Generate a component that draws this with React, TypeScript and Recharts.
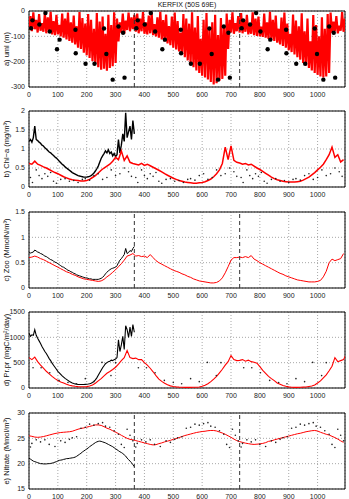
import React from 'react';
import {
  ComposedChart,
  Line,
  Scatter,
  XAxis,
  YAxis,
  CartesianGrid,
  ReferenceLine,
  ReferenceArea,
} from 'recharts';

// 3 model years, daily axis
const X_MAX = 1095;
const X_TICKS = [0, 100, 200, 300, 400, 500, 600, 700, 800, 900, 1000];
const YEAR_STARTS = [0, 365, 730];

// a) mixed layer depth (m): deepest / shallowest excursion every 10 days
const umlDeep = [
  -75, -80, -72, -85, -78, -82, -88, -84, -92, -95, -92, -100, -105, -112, -118, -125, -132, -145, -150, -165,
  -175, -185, -198, -210, -222, -232, -228, -236, -225, -218, -205, -120, -85, -90, -75, -80, -72,
  -82, -88, -80, -90, -92, -88, -95, -100, -105, -112, -120, -128, -135, -145, -152, -160, -172, -182, -195, -210,
  -222, -235, -245, -255, -262, -270, -280, -290, -285, -275, -268, -255, -150, -85, -90, -80,
  -85, -88, -82, -92, -90, -95, -98, -100, -102, -105, -110, -115, -118, -125, -132, -138, -145, -155, -162, -172,
  -182, -192, -205, -215, -225, -235, -245, -252, -258, -262, -258, -245, -85, -80, -88, -78, -82,
];
const umlShallow = [
  -20, -5, -35, -12, -48, -8, -25, -3, -40, -15, -55, -10, -30, -6, -45, -18, -60, -4, -28, -50,
  -12, -35, -70, -8, -42, -22, -90, -15, -55, -5, -30, -45, -10, -38, -6, -25, -15,
  -10, -30, -4, -45, -18, -8, -52, -25, -3, -36, -14, -60, -22, -6, -40, -85, -12, -30, -50, -5,
  -65, -20, -110, -35, -8, -75, -45, -15, -95, -28, -60, -10, -35, -5, -48, -20,
  -8, -40, -15, -55, -5, -30, -22, -62, -10, -45, -3, -35, -18, -70, -26, -6, -50, -90, -14, -38,
  -60, -9, -80, -30, -120, -16, -55, -100, -25, -70, -12, -6, -42, -20, -58, -4, -30,
];
// observed climatology (day of year, depth)
const umlObsDoy = [7, 12, 36, 57, 72, 97, 106, 161, 162, 196, 227, 260, 268, 290, 310, 326, 331];
const umlObs = [-68, -37, -53, -8, -81, -151, -113, -74, -167, -208, -208, -69, -170, -271, -61, -86, -263];

// b) chlorophyll (mg/m3)
const chlModel = [
  0.62, 0.6, 0.68, 0.6, 0.57, 0.53, 0.5, 0.46, 0.42, 0.38, 0.35, 0.31, 0.27, 0.24, 0.21, 0.19, 0.18, 0.17, 0.16, 0.16,
  0.17, 0.2, 0.25, 0.3, 0.37, 0.44, 0.5, 0.55, 0.6, 0.68, 0.78, 0.72, 0.95, 0.7, 0.82, 0.65, 0.62,
  0.6, 0.58, 0.62, 0.57, 0.6, 0.56, 0.52, 0.48, 0.44, 0.4, 0.35, 0.31, 0.27, 0.23, 0.2, 0.17, 0.15, 0.13, 0.12, 0.11,
  0.1, 0.1, 0.11, 0.12, 0.14, 0.17, 0.21, 0.27, 0.35, 0.45, 0.62, 1.05, 0.72, 1.08, 0.7, 0.65,
  0.63, 0.6, 0.62, 0.58, 0.6, 0.55, 0.5, 0.46, 0.41, 0.36, 0.31, 0.26, 0.22, 0.19, 0.17, 0.15, 0.14, 0.13, 0.13, 0.13,
  0.14, 0.15, 0.18, 0.22, 0.26, 0.32, 0.38, 0.45, 0.52, 0.6, 0.72, 0.85, 1.05, 0.78, 0.85, 0.66, 0.72,
];
const chlRun1 = [
  1.2, 1.25, 1.18, 1.3, 1.6, 1.25, 1.22, 1.18, 1.15, 1.1, 1.08, 1.03, 1.0, 0.96, 0.92, 0.9, 0.86, 0.83, 0.79, 0.76,
  0.72, 0.68, 0.64, 0.6, 0.57, 0.53, 0.5, 0.47, 0.44, 0.41, 0.38, 0.36, 0.34, 0.32, 0.3, 0.29, 0.28, 0.27, 0.26, 0.26,
  0.26, 0.27, 0.28, 0.3, 0.33, 0.37, 0.42, 0.48, 0.55, 0.65, 0.75, 0.82, 0.88, 0.95, 0.9, 0.98, 0.88, 0.92, 0.82, 0.88,
  0.8, 0.85, 1.25, 0.9, 1.1, 1.4, 1.2, 1.95, 1.3, 1.45, 1.6, 1.25, 1.75, 1.4,
];
const chlObsDoy = [5, 12, 25, 35, 45, 55, 65, 75, 85, 95, 110, 125, 140, 155, 170, 185, 195, 210, 225, 240, 255, 270, 285, 300, 315, 330, 345, 355];
const chlObs = [0.25, 0.12, 0.45, 0.3, 0.22, 0.35, 0.28, 0.38, 0.15, 0.1, 0.2, 0.22, 0.15, 0.17, 0.12, 0.2, 0.22, 0.18, 0.3, 0.35, 0.2, 0.25, 0.45, 0.3, 0.35, 0.5, 0.4, 0.28];

// c) zooplankton (mmolN/m3)
const zooModel = [
  0.6, 0.61, 0.63, 0.61, 0.58, 0.56, 0.53, 0.5, 0.47, 0.44, 0.41, 0.38, 0.35, 0.32, 0.3, 0.27, 0.25, 0.22, 0.2, 0.18,
  0.17, 0.16, 0.15, 0.14, 0.13, 0.14, 0.17, 0.22, 0.26, 0.31, 0.36, 0.42, 0.48, 0.55, 0.63, 0.65, 0.68,
  0.63, 0.64, 0.62, 0.63, 0.6, 0.66, 0.6, 0.54, 0.5, 0.47, 0.44, 0.41, 0.38, 0.35, 0.33, 0.31, 0.28, 0.26, 0.23, 0.21,
  0.18, 0.16, 0.14, 0.13, 0.12, 0.11, 0.1, 0.1, 0.11, 0.14, 0.2, 0.3, 0.42, 0.55, 0.6, 0.6,
  0.61, 0.6, 0.62, 0.6, 0.64, 0.57, 0.54, 0.5, 0.47, 0.44, 0.41, 0.38, 0.35, 0.32, 0.29, 0.27, 0.24, 0.22, 0.2, 0.18,
  0.16, 0.15, 0.14, 0.13, 0.12, 0.12, 0.12, 0.13, 0.15, 0.22, 0.33, 0.5, 0.57, 0.54, 0.56, 0.58, 0.68,
];
const zooRun1 = [
  0.7, 0.69, 0.7, 0.71, 0.75, 0.73, 0.71, 0.7, 0.68, 0.67, 0.65, 0.63, 0.62, 0.6, 0.58, 0.56, 0.55, 0.53, 0.51, 0.5,
  0.48, 0.46, 0.44, 0.42, 0.41, 0.39, 0.37, 0.35, 0.34, 0.32, 0.31, 0.29, 0.28, 0.26, 0.25, 0.24, 0.23, 0.22, 0.21, 0.2,
  0.2, 0.19, 0.18, 0.18, 0.17, 0.17, 0.17, 0.17, 0.17, 0.18, 0.19, 0.21, 0.24, 0.28, 0.31, 0.34, 0.36, 0.38, 0.39, 0.4,
  0.41, 0.44, 0.5, 0.55, 0.58, 0.62, 0.66, 0.78, 0.68, 0.7, 0.74, 0.72, 0.78, 0.82,
];

// d) primary production (mgC/m2/day)
const ppModel = [
  600, 560, 610, 520, 450, 390, 330, 280, 230, 185, 150, 120, 100, 75, 55, 42, 33, 28, 26, 25,
  27, 38, 60, 95, 140, 185, 240, 290, 325, 365, 410, 470, 540, 600, 740, 600, 580,
  590, 560, 560, 500, 450, 390, 320, 245, 175, 130, 95, 65, 42, 30, 22, 17, 14, 13, 13, 13,
  14, 16, 20, 35, 55, 85, 125, 175, 230, 300, 370, 450, 520, 640, 560, 540,
  545, 560, 530, 550, 520, 510, 490, 420, 350, 290, 230, 185, 145, 100, 75, 50, 35, 22, 15, 13,
  13, 14, 17, 20, 30, 40, 60, 100, 140, 200, 260, 340, 430, 600, 520, 540, 560, 680,
];
const ppRun1 = [
  1080, 1020, 1050, 1040, 1150, 1040, 980, 930, 880, 820, 770, 720, 680, 630, 580, 540, 490, 450, 410, 370,
  330, 300, 270, 240, 215, 190, 170, 150, 130, 115, 100, 90, 82, 76, 72, 70, 70, 70, 70, 72,
  74, 78, 85, 95, 110, 130, 160, 200, 250, 300, 350, 400, 440, 480, 500, 520, 530, 550, 540, 560,
  570, 600, 950, 720, 850, 1020, 760, 1230, 1150, 1000, 1200, 1020, 1250, 1100,
];
const ppObsDoy = [14, 42, 72, 104, 135, 164, 195, 225, 253, 284, 300];
const ppObs = [400, 400, 300, 150, 110, 85, 185, 125, 505, 245, 500];

// e) nitrate (mmol/m3)
const no3Model = [
  25.5, 25.4, 25.25, 25.2, 25.25, 25.35, 25.5, 25.65, 25.8, 25.95, 26.05, 26.15, 26.2, 26.25, 26.3, 26.4, 26.6, 26.8, 26.95, 27.05,
  27.2, 27.35, 27.5, 27.65, 27.65, 27.55, 27.3, 27.0, 26.8, 26.5, 26.2, 25.95, 25.6, 25.3, 25.0, 24.8, 24.7,
  24.55, 24.4, 24.25, 24.1, 23.95, 23.8, 23.7, 23.75, 23.95, 24.1, 24.3, 24.45, 24.6, 24.8, 24.95, 25.15, 25.35, 25.55, 25.7, 25.85,
  26.0, 26.15, 26.25, 26.35, 26.4, 26.5, 26.55, 26.55, 26.45, 26.25, 26.05, 25.8, 25.5, 25.2, 24.85, 24.55,
  24.35, 24.2, 24.05, 23.95, 23.85, 23.8, 23.85, 23.9, 24.0, 24.15, 24.4, 24.5, 24.7, 24.85, 25.0, 25.15, 25.3, 25.45, 25.6, 25.75,
  25.9, 26.0, 26.15, 26.3, 26.4, 26.5, 26.55, 26.45, 26.2, 26.0, 25.8, 25.65, 25.4, 25.15, 24.85, 24.5, 24.2,
];
const no3Run1 = [
  21.1, 20.9, 20.7, 20.5, 20.4, 20.3, 20.2, 20.1, 20.0, 20.0, 19.95, 19.95, 19.95, 20.0, 20.0, 20.05, 20.1, 20.2, 20.3, 20.4,
  20.55, 20.65, 20.7, 20.75, 20.85, 20.9, 21.0, 21.0, 21.05, 21.1, 21.15, 21.2, 21.3, 21.45, 21.65, 21.85, 22.05, 22.3, 22.5, 22.7,
  22.9, 23.1, 23.35, 23.55, 23.75, 23.95, 24.15, 24.3, 24.4, 24.45, 24.4, 24.3, 24.2, 24.1, 23.95, 23.8, 23.65, 23.5, 23.35, 23.15,
  22.95, 22.75, 22.55, 22.35, 22.2, 22.0, 21.75, 21.5, 21.1, 20.8, 20.5, 20.2, 19.8, 19.4,
];
const no3ObsDoy = [5, 10, 25, 40, 55, 70, 90, 110, 125, 140, 150, 165, 180, 195, 210, 225, 240, 255, 265, 280, 295, 310, 320, 330, 340, 350, 360];
const no3Obs = [23.3, 24.0, 24.7, 24.3, 24.7, 23.8, 23.4, 24.5, 24.2, 24.8, 25.1, 25.3, 27.0, 27.2, 27.8, 27.6, 27.9, 28.1, 27.4, 27.2, 26.5, 25.8, 23.8, 23.2, 26.8, 25.6, 24.5];

type Pt = { day: number; v: number };

const every = (step: number, vals: number[]): Pt[] => vals.map((v, i) => ({ day: i * step, v }));
const climatology = (doy: number[], vals: number[]): Pt[] =>
  YEAR_STARTS.flatMap((y0) => doy.map((d, i) => ({ day: y0 + d, v: vals[i] })));

// deep and shallow excursions alternate every 5 days
const umlModel: Pt[] = umlDeep.flatMap((d, i) => [
  { day: i * 10, v: d },
  { day: i * 10 + 5, v: umlShallow[i] },
]);

const FONT = '"Liberation Sans", Arial, sans-serif';
const RED = '#ff0000';
const PLOT_H = 76;
const M_TOP = 4;

const bigDot = (p: any) => <circle cx={p.cx} cy={p.cy} r={2.2} fill="#000" />;
const smallDot = (p: any) => <circle cx={p.cx} cy={p.cy} r={0.8} fill="#222" />;

interface PanelProps {
  top: number;
  domain: [number, number];
  ticks: number[];
  label: React.ReactNode;
  dashed?: boolean;
  children: React.ReactNode;
}

function Panel({ top, domain, ticks, label, dashed, children }: PanelProps) {
  return (
    <>
      <div
        style={{
          position: 'absolute',
          left: 6,
          top: top + PLOT_H / 2,
          transform: 'translate(-50%, -50%) rotate(-90deg)',
          whiteSpace: 'nowrap',
          fontSize: 7.5,
          color: '#111',
        }}
      >
        {label}
      </div>
      <div style={{ position: 'absolute', left: 0, top: top - M_TOP }}>
        <ComposedChart width={349} height={M_TOP + PLOT_H + 14} margin={{ top: M_TOP, right: 4, bottom: 0, left: 0 }}>
          <CartesianGrid stroke="#a8a8a8" strokeDasharray="1 2" />
          <XAxis
            type="number"
            dataKey="day"
            domain={[0, X_MAX]}
            ticks={X_TICKS}
            interval={0}
            allowDataOverflow
            axisLine={false}
            tickLine={false}
            tickSize={3}
            height={14}
            tick={{ fontSize: 7, fill: '#222' }}
          />
          <YAxis
            type="number"
            domain={domain}
            ticks={ticks}
            interval={0}
            allowDataOverflow
            width={29}
            axisLine={false}
            tickLine={false}
            tickSize={2}
            tick={{ fontSize: 7, fill: '#222' }}
          />
          {children}
          {dashed && <ReferenceLine x={365} stroke="#333" strokeDasharray="4 3" />}
          {dashed && <ReferenceLine x={730} stroke="#333" strokeDasharray="4 3" />}
          <ReferenceArea x1={0} x2={X_MAX} y1={domain[0]} y2={domain[1]} fill="none" stroke="#000" strokeWidth={1} />
        </ComposedChart>
      </div>
    </>
  );
}

export default function App() {
  return (
    <div style={{ position: 'absolute', left: 0, top: 0, width: 349, height: 499, background: '#fff', fontFamily: FONT }}>
      <div style={{ position: 'absolute', left: 187, top: 1, transform: 'translateX(-50%)', fontSize: 7, lineHeight: '7px', whiteSpace: 'nowrap', color: '#111' }}>
        KERFIX (50S 69E)
      </div>

      <Panel top={11} domain={[-300, 0]} ticks={[-300, -200, -100, 0]} label="a) uml (m)" dashed>
        <Line data={umlModel} dataKey="v" stroke={RED} strokeWidth={2.2} strokeLinejoin="miter" dot={false} isAnimationActive={false} />
        <Scatter data={climatology(umlObsDoy, umlObs)} dataKey="v" shape={bigDot} isAnimationActive={false} />
      </Panel>

      <Panel top={111} domain={[0, 2]} ticks={[0, 0.5, 1, 1.5, 2]} label="b) Chl−a (mg/m³)">
        <Scatter data={climatology(chlObsDoy, chlObs)} dataKey="v" shape={smallDot} isAnimationActive={false} />
        <Line data={every(5, chlRun1)} dataKey="v" stroke="#000" strokeWidth={1.4} dot={false} isAnimationActive={false} />
        <Line data={every(10, chlModel)} dataKey="v" stroke={RED} strokeWidth={1.5} dot={false} isAnimationActive={false} />
      </Panel>

      <Panel top={212} domain={[0, 1.5]} ticks={[0, 0.5, 1, 1.5]} label="c) Zoo (MmolN/m³)" dashed>
        <Line data={every(5, zooRun1)} dataKey="v" stroke="#000" strokeWidth={1} dot={false} isAnimationActive={false} />
        <Line data={every(10, zooModel)} dataKey="v" stroke={RED} strokeWidth={1} dot={false} isAnimationActive={false} />
      </Panel>

      <Panel top={312} domain={[0, 1500]} ticks={[0, 500, 1000, 1500]} label="d) Pr.pr (mgC/m²/day)">
        <Scatter data={climatology(ppObsDoy, ppObs)} dataKey="v" shape={smallDot} isAnimationActive={false} />
        <Line data={every(5, ppRun1)} dataKey="v" stroke="#000" strokeWidth={1.1} dot={false} isAnimationActive={false} />
        <Line data={every(10, ppModel)} dataKey="v" stroke={RED} strokeWidth={1.1} dot={false} isAnimationActive={false} />
      </Panel>

      <Panel top={413} domain={[15, 30]} ticks={[15, 20, 25, 30]} label="e) Nitrate (Mmol/m³)" dashed>
        <Scatter data={climatology(no3ObsDoy, no3Obs)} dataKey="v" shape={smallDot} isAnimationActive={false} />
        <Line data={every(5, no3Run1)} dataKey="v" stroke="#000" strokeWidth={1} dot={false} isAnimationActive={false} />
        <Line data={every(10, no3Model)} dataKey="v" stroke={RED} strokeWidth={1} dot={false} isAnimationActive={false} />
      </Panel>
    </div>
  );
}
